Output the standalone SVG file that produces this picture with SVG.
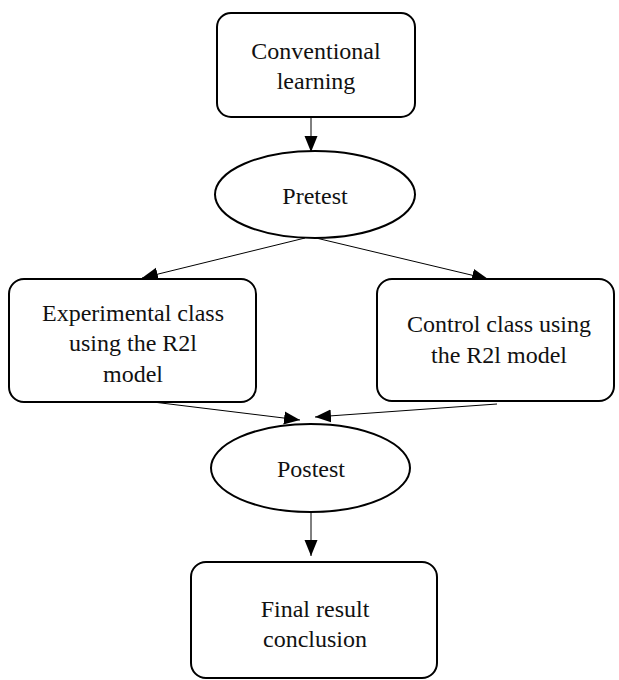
<svg xmlns="http://www.w3.org/2000/svg" width="619" height="680" viewBox="0 0 619 680">
<style>
.box{fill:#fff;stroke:#000;stroke-width:2}
.lbl{font-family:"Liberation Serif","Times New Roman",serif;font-size:24px;fill:#111;text-anchor:middle}
.con{stroke:#000;stroke-width:1;fill:none;marker-end:url(#ah)}
</style>
<defs>
<marker id="ah" markerUnits="userSpaceOnUse" markerWidth="17" markerHeight="14" refX="16" refY="7" orient="auto">
<path d="M0,0.5 L16,7 L0,13.5 z" fill="#000"/>
</marker>
</defs>
<rect width="619" height="680" fill="#fff"/>
<g id="connectors">
<line class="con" x1="311" y1="117" x2="311" y2="152"/>
<line class="con" x1="305" y1="238" x2="142" y2="278"/>
<line class="con" x1="316" y1="238" x2="488" y2="279"/>
<line class="con" x1="153" y1="402" x2="300" y2="420"/>
<line class="con" x1="497" y1="404" x2="315" y2="417"/>
<line class="con" x1="311" y1="512" x2="311" y2="556"/>
</g>
<g id="conventional">
<rect class="box" x="217" y="13" width="198" height="104" rx="14"/>
<text class="lbl" x="316" y="59">Conventional</text>
<text class="lbl" x="316" y="89">learning</text>
</g>
<g id="pretest">
<ellipse class="box" cx="315" cy="194.5" rx="100" ry="43.5"/>
<text class="lbl" x="315" y="204">Pretest</text>
</g>
<g id="experimental">
<rect class="box" x="9" y="279" width="247" height="123" rx="15"/>
<text class="lbl" x="133" y="321">Experimental class</text>
<text class="lbl" x="133" y="351">using the R2l</text>
<text class="lbl" x="133" y="382">model</text>
</g>
<g id="control">
<rect class="box" x="377" y="279" width="237" height="122" rx="15"/>
<text class="lbl" x="499" y="332">Control class using</text>
<text class="lbl" x="499" y="363">the R2l model</text>
</g>
<g id="postest">
<ellipse class="box" cx="310.5" cy="468" rx="99.5" ry="44"/>
<text class="lbl" x="311" y="477">Postest</text>
</g>
<g id="final">
<rect class="box" x="191" y="562" width="246" height="116" rx="15"/>
<text class="lbl" x="315" y="617">Final result</text>
<text class="lbl" x="315" y="647">conclusion</text>
</g>
</svg>
